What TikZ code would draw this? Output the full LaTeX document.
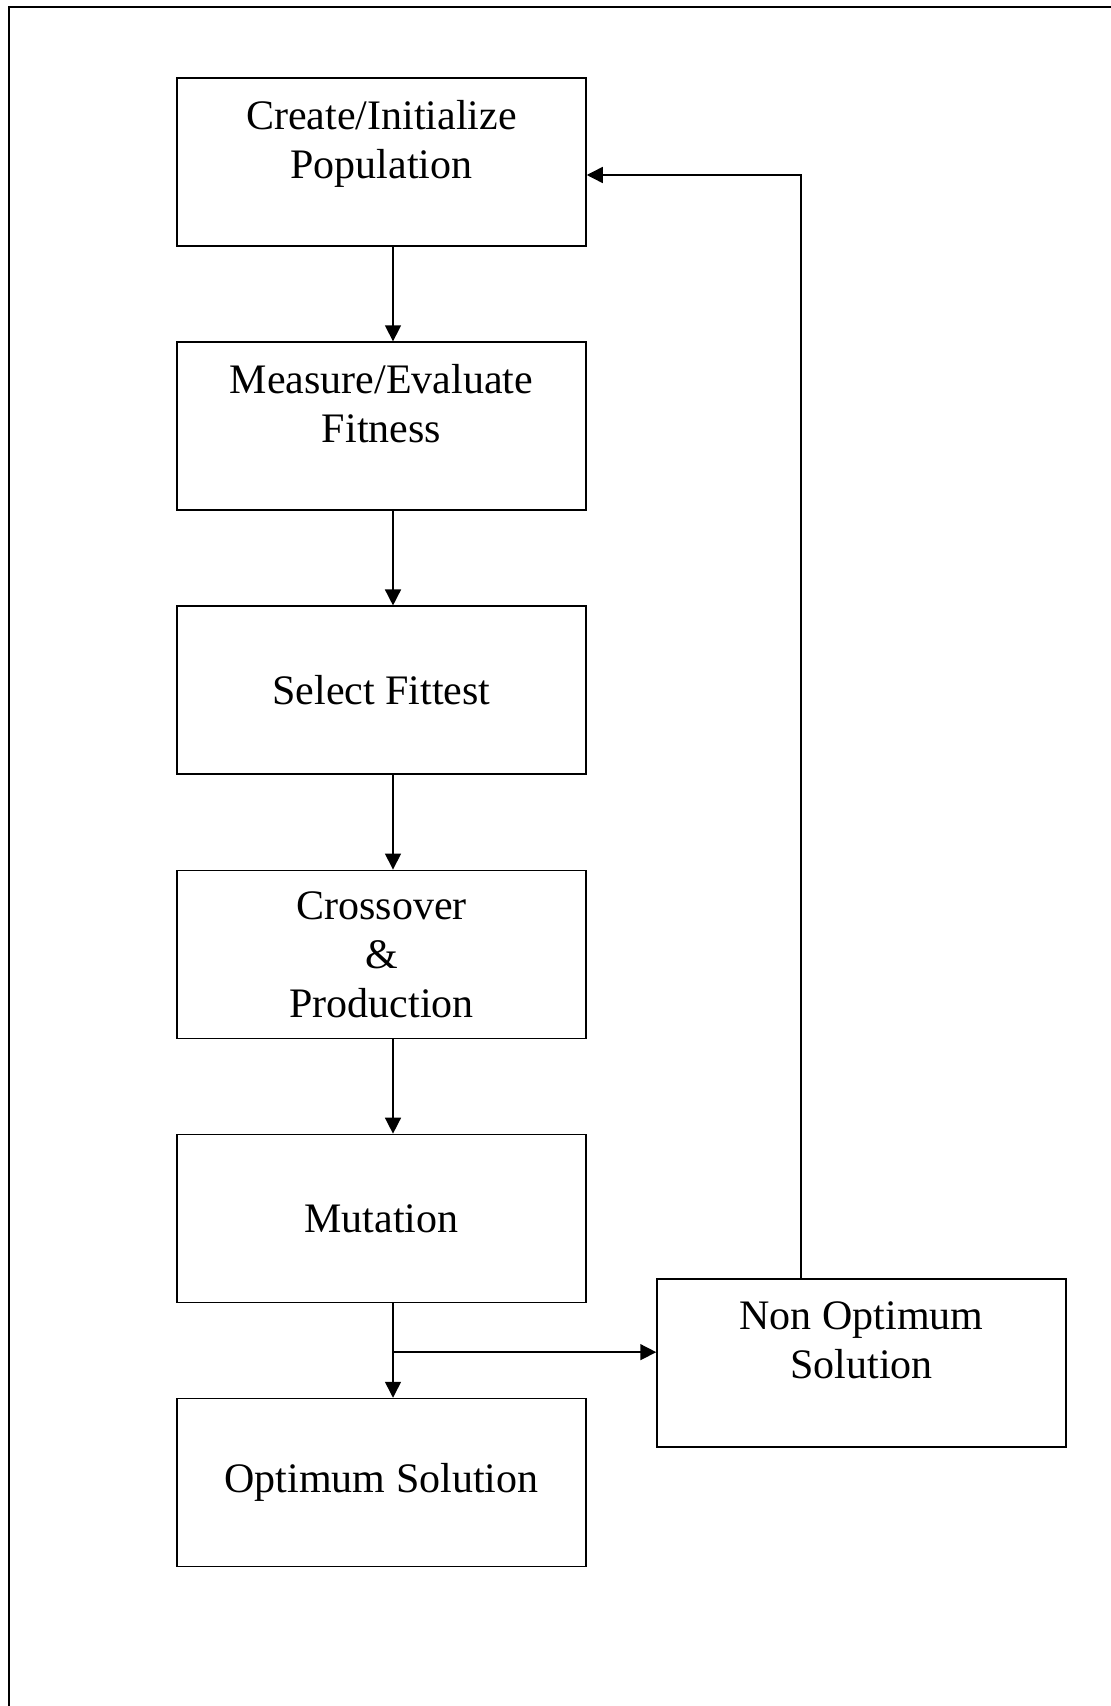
\documentclass[tikz,border=0pt]{standalone}
\usepackage{fontspec}
\setmainfont{Liberation Serif}
\usetikzlibrary{positioning, calc, arrows.meta}

\tikzset{
  box/.style={draw, line width=0.75pt, minimum width=204.5pt, minimum height=84pt,
    inner sep=2pt, align=center, font=\fontsize{21}{24.5}\selectfont},
  twoline/.style={box, text depth=22.5pt},
  arr/.style={-{Triangle[length=8pt,width=8pt]}, line width=0.75pt}
}

\begin{document}
\begin{tikzpicture}[x=0.5pt,y=-0.5pt,node distance=47.3pt]
  \useasboundingbox (0,0) rectangle (1111,1706);
  % frame (only top and left edges show)
  \draw[line width=0.75pt] (1111,7) -- (9,7) -- (9,1706);

  \node[twoline] (create) at (381.5,162) {Create/Initialize\\Population};
  \node[twoline, below=of create] (measure) {Measure/Evaluate\\Fitness};
  \node[box, below=of measure] (select) {Select Fittest};
  \node[box, below=of select] (cross) {Crossover\\\&\\Production};
  \node[box, below=of cross] (mutate) {Mutation};
  \node[box, below=of mutate] (optimum) {Optimum Solution};
  \node[twoline] (nonopt) at (861.5,1363) {Non Optimum\\Solution};

  \foreach \a/\b in {create/measure, measure/select, select/cross, cross/mutate, mutate/optimum}
    \draw[arr] ([xshift=5.75pt]\a.south) -- ([xshift=5.75pt]\b.north);

  \coordinate (split) at ($(mutate.south)+(11.5,49)$);
  \draw[arr] (split) -- (split -| nonopt.west);
  \draw[arr] ([xshift=-30.25pt]nonopt.north) |- ([yshift=-6.5pt]create.east);
\end{tikzpicture}
\end{document}
